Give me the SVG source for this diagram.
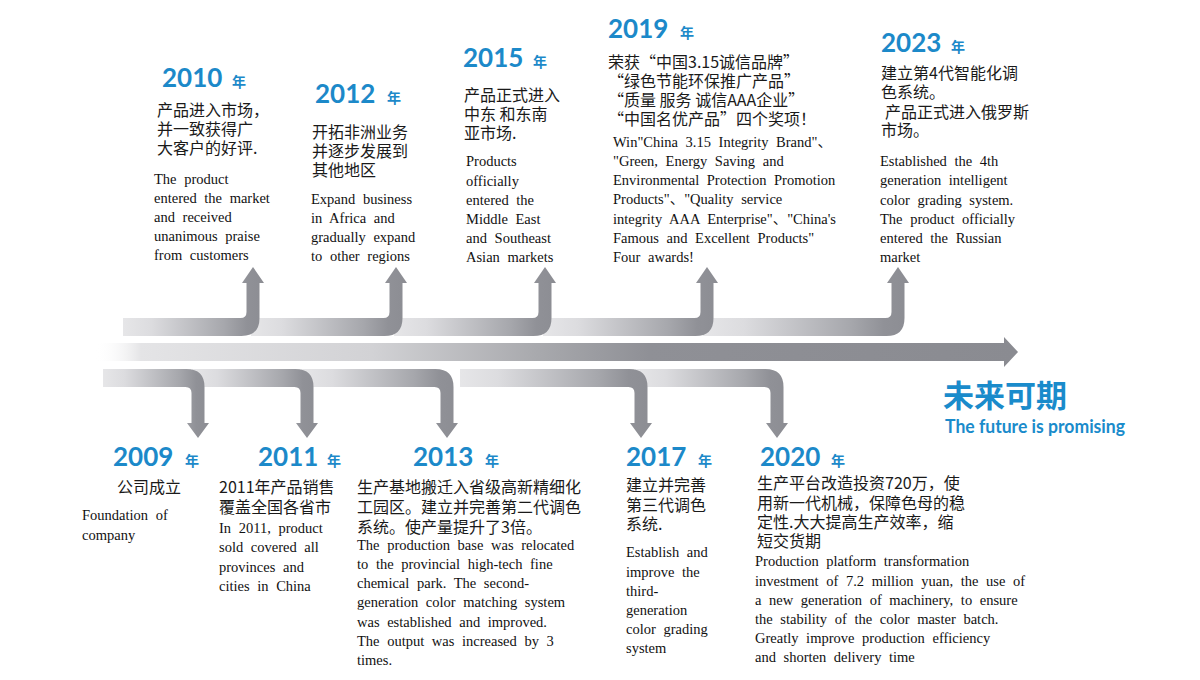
<svg xmlns="http://www.w3.org/2000/svg" width="1200" height="680" viewBox="0 0 1200 680">
<style>
.yr{font-family:Lato,"Open Sans",sans-serif;font-weight:700;font-size:26px;fill:#1c89c9}
.nian{font-family:"Noto Sans CJK SC",sans-serif;font-weight:700;font-size:14px;fill:#1c89c9}
.cn{font-family:"Noto Sans CJK SC",sans-serif;font-size:16px;fill:#1a1a1a}
.en{font-family:"Liberation Serif","Noto Sans CJK SC",serif;font-size:14.5px;fill:#111;word-spacing:4px}
.seg{fill:url(#segGrad)}
</style>
<defs>
<linearGradient id="segGrad" x1="0" y1="0" x2="1" y2="0">
<stop offset="0" stop-color="#e6e6e8"/>
<stop offset="0.2" stop-color="#dcdcdf"/>
<stop offset="0.72" stop-color="#a6a7ac"/>
<stop offset="0.88" stop-color="#909197"/>
<stop offset="1" stop-color="#8c8d93"/>
</linearGradient>
<linearGradient id="midGrad" gradientUnits="userSpaceOnUse" x1="95" y1="0" x2="1018" y2="0">
<stop offset="0" stop-color="#ffffff" stop-opacity="0"/>
<stop offset="0.05" stop-color="#e4e4e6"/>
<stop offset="0.3" stop-color="#d2d2d5"/>
<stop offset="0.48" stop-color="#a8a9ad"/>
<stop offset="0.6" stop-color="#8f9096"/>
<stop offset="1" stop-color="#8a8b91"/>
</linearGradient>
</defs>
<rect width="1200" height="680" fill="#ffffff"/>

<g id="connectors">
  <path id="main-axis" d="M95 343 H1004 V337 L1018 352 L1004 367 V361 H95 Z" fill="url(#midGrad)"/>
  <path class="seg" d="M703 318 H885.5 q6 0 6 -6 V283 h-4.5 l11 -16 l11 16 h-4.5 V318 q0 18 -18 18 H703 Z"/>
  <path class="seg" d="M543 318 H694.5 q6 0 6 -6 V283 h-4.5 l11 -16 l11 16 h-4.5 V318 q0 18 -18 18 H543 Z"/>
  <path class="seg" d="M394 318 H532.5 q6 0 6 -6 V283 h-4.5 l11 -16 l11 16 h-4.5 V318 q0 18 -18 18 H394 Z"/>
  <path class="seg" d="M251 318 H383.5 q6 0 6 -6 V283 h-4.5 l11 -16 l11 16 h-4.5 V318 q0 18 -18 18 H251 Z"/>
  <path class="seg" d="M123 318 H240.5 q6 0 6 -6 V283 h-4.5 l11 -16 l11 16 h-4.5 V318 q0 18 -18 18 H123 Z"/>
  <path class="seg" d="M635 369 H765.5 q18 0 18 18 V423 h4.5 l-11 15 l-11 -15 h4.5 V393 q0 -6 -6 -6 H635 Z"/>
  <path class="seg" d="M460 369 H629.5 q18 0 18 18 V423 h4.5 l-11 15 l-11 -15 h4.5 V393 q0 -6 -6 -6 H460 Z"/>
  <path class="seg" d="M301 369 H435.5 q18 0 18 18 V423 h4.5 l-11 15 l-11 -15 h4.5 V393 q0 -6 -6 -6 H301 Z"/>
  <path class="seg" d="M192 369 H295.5 q18 0 18 18 V423 h4.5 l-11 15 l-11 -15 h4.5 V393 q0 -6 -6 -6 H192 Z"/>
  <path class="seg" d="M103 369 H186.5 q18 0 18 18 V423 h4.5 l-11 15 l-11 -15 h4.5 V393 q0 -6 -6 -6 H103 Z"/>
</g>

<g id="node-2010">
  <text class="yr" x="162" y="87">2010</text><text class="nian" x="232" y="87">年</text>
  <text class="cn" x="157" y="116">产品进入市场，</text>
  <text class="cn" x="157" y="135">并一致获得广</text>
  <text class="cn" x="157" y="154">大客户的好评.</text>
  <text class="en" x="154" y="184">The product</text>
  <text class="en" x="154" y="203">entered the market</text>
  <text class="en" x="154" y="222">and received</text>
  <text class="en" x="154" y="241">unanimous praise</text>
  <text class="en" x="154" y="260">from customers</text>
</g>

<g id="node-2012">
  <text class="yr" x="315" y="103">2012</text><text class="nian" x="387" y="103">年</text>
  <text class="cn" x="312" y="138">开拓非洲业务</text>
  <text class="cn" x="312" y="157">并逐步发展到</text>
  <text class="cn" x="312" y="176">其他地区</text>
  <text class="en" x="311" y="204">Expand business</text>
  <text class="en" x="311" y="223">in Africa and</text>
  <text class="en" x="311" y="242">gradually expand</text>
  <text class="en" x="311" y="261">to other regions</text>
</g>

<g id="node-2015">
  <text class="yr" x="463" y="67">2015</text><text class="nian" x="533" y="67">年</text>
  <text class="cn" x="464" y="101">产品正式进入</text>
  <text class="cn" x="464" y="120">中东 和东南</text>
  <text class="cn" x="464" y="139">亚市场.</text>
  <text class="en" x="466" y="166">Products</text>
  <text class="en" x="466" y="186">officially</text>
  <text class="en" x="466" y="205">entered the</text>
  <text class="en" x="466" y="224">Middle East</text>
  <text class="en" x="466" y="243">and Southeast</text>
  <text class="en" x="466" y="262">Asian markets</text>
</g>

<g id="node-2019">
  <text class="yr" x="608" y="38">2019</text><text class="nian" x="680" y="38">年</text>
  <text class="cn" x="608" y="68">荣获“中国3.15诚信品牌”</text>
  <text class="cn" x="608" y="87">“绿色节能环保推广产品”</text>
  <text class="cn" x="608" y="106">“质量 服务 诚信AAA企业”</text>
  <text class="cn" x="608" y="125">“中国名优产品”四个奖项！</text>
  <text class="en" x="613" y="147">Win"China 3.15 Integrity Brand"、</text>
  <text class="en" x="613" y="166">"Green, Energy Saving and</text>
  <text class="en" x="613" y="185">Environmental Protection Promotion</text>
  <text class="en" x="613" y="204">Products"、"Quality service</text>
  <text class="en" x="613" y="224">integrity AAA Enterprise"、"China's</text>
  <text class="en" x="613" y="243">Famous and Excellent Products"</text>
  <text class="en" x="613" y="262">Four awards!</text>
</g>

<g id="node-2023">
  <text class="yr" x="881" y="52">2023</text><text class="nian" x="951" y="52">年</text>
  <text class="cn" x="881" y="79">建立第4代智能化调</text>
  <text class="cn" x="881" y="98">色系统。</text>
  <text class="cn" x="885" y="118">产品正式进入俄罗斯</text>
  <text class="cn" x="881" y="136">市场。</text>
  <text class="en" x="880" y="166">Established the 4th</text>
  <text class="en" x="880" y="185">generation intelligent</text>
  <text class="en" x="880" y="205">color grading system.</text>
  <text class="en" x="880" y="224">The product officially</text>
  <text class="en" x="880" y="243">entered the Russian</text>
  <text class="en" x="880" y="262">market</text>
</g>

<g id="node-2009">
  <text class="yr" x="113" y="466">2009</text><text class="nian" x="185" y="466">年</text>
  <text class="cn" x="117" y="493">公司成立</text>
  <text class="en" x="82" y="520">Foundation of</text>
  <text class="en" x="82" y="540">company</text>
</g>

<g id="node-2011">
  <text class="yr" x="258" y="466">2011</text><text class="nian" x="327" y="466">年</text>
  <text class="cn" x="219" y="493">2011年产品销售</text>
  <text class="cn" x="219" y="513">覆盖全国各省市</text>
  <text class="en" x="219" y="533">In 2011, product</text>
  <text class="en" x="219" y="552">sold covered all</text>
  <text class="en" x="219" y="572">provinces and</text>
  <text class="en" x="219" y="591">cities in China</text>
</g>

<g id="node-2013">
  <text class="yr" x="413" y="466">2013</text><text class="nian" x="485" y="466">年</text>
  <text class="cn" x="357" y="493">生产基地搬迁入省级高新精细化</text>
  <text class="cn" x="357" y="513">工园区。建立并完善第二代调色</text>
  <text class="cn" x="357" y="533">系统。使产量提升了3倍。</text>
  <text class="en" x="357" y="550">The production base was relocated</text>
  <text class="en" x="357" y="569">to the provincial high-tech fine</text>
  <text class="en" x="357" y="588">chemical park. The second-</text>
  <text class="en" x="357" y="607">generation color matching system</text>
  <text class="en" x="357" y="627">was established and improved.</text>
  <text class="en" x="357" y="646">The output was increased by 3</text>
  <text class="en" x="357" y="665">times.</text>
</g>

<g id="node-2017">
  <text class="yr" x="626" y="466">2017</text><text class="nian" x="698" y="466">年</text>
  <text class="cn" x="626" y="491">建立并完善</text>
  <text class="cn" x="626" y="511">第三代调色</text>
  <text class="cn" x="626" y="530">系统.</text>
  <text class="en" x="626" y="557">Establish and</text>
  <text class="en" x="626" y="577">improve the</text>
  <text class="en" x="626" y="596">third-</text>
  <text class="en" x="626" y="615">generation</text>
  <text class="en" x="626" y="634">color grading</text>
  <text class="en" x="626" y="653">system</text>
</g>

<g id="node-2020">
  <text class="yr" x="760" y="466">2020</text><text class="nian" x="831" y="466">年</text>
  <text class="cn" x="757" y="489">生产平台改造投资720万，使</text>
  <text class="cn" x="757" y="509">用新一代机械，保障色母的稳</text>
  <text class="cn" x="757" y="528">定性.大大提高生产效率，缩</text>
  <text class="cn" x="757" y="547">短交货期</text>
  <text class="en" x="755" y="566">Production platform transformation</text>
  <text class="en" x="755" y="586">investment of 7.2 million yuan, the use of</text>
  <text class="en" x="755" y="605">a new generation of machinery, to ensure</text>
  <text class="en" x="755" y="624">the stability of the color master batch.</text>
  <text class="en" x="755" y="643">Greatly improve production efficiency</text>
  <text class="en" x="755" y="662">and shorten delivery time</text>
</g>

<g id="node-future">
  <text x="943" y="407" style="font-family:'Noto Sans CJK SC',sans-serif;font-weight:700;font-size:31px;fill:#1a8bcb">未来可期</text>
  <text x="945" y="433" textLength="180" lengthAdjust="spacingAndGlyphs" style="font-family:Lato,'Open Sans',sans-serif;font-weight:700;font-size:18px;fill:#1a8bcb">The future is promising</text>
</g>
</svg>
